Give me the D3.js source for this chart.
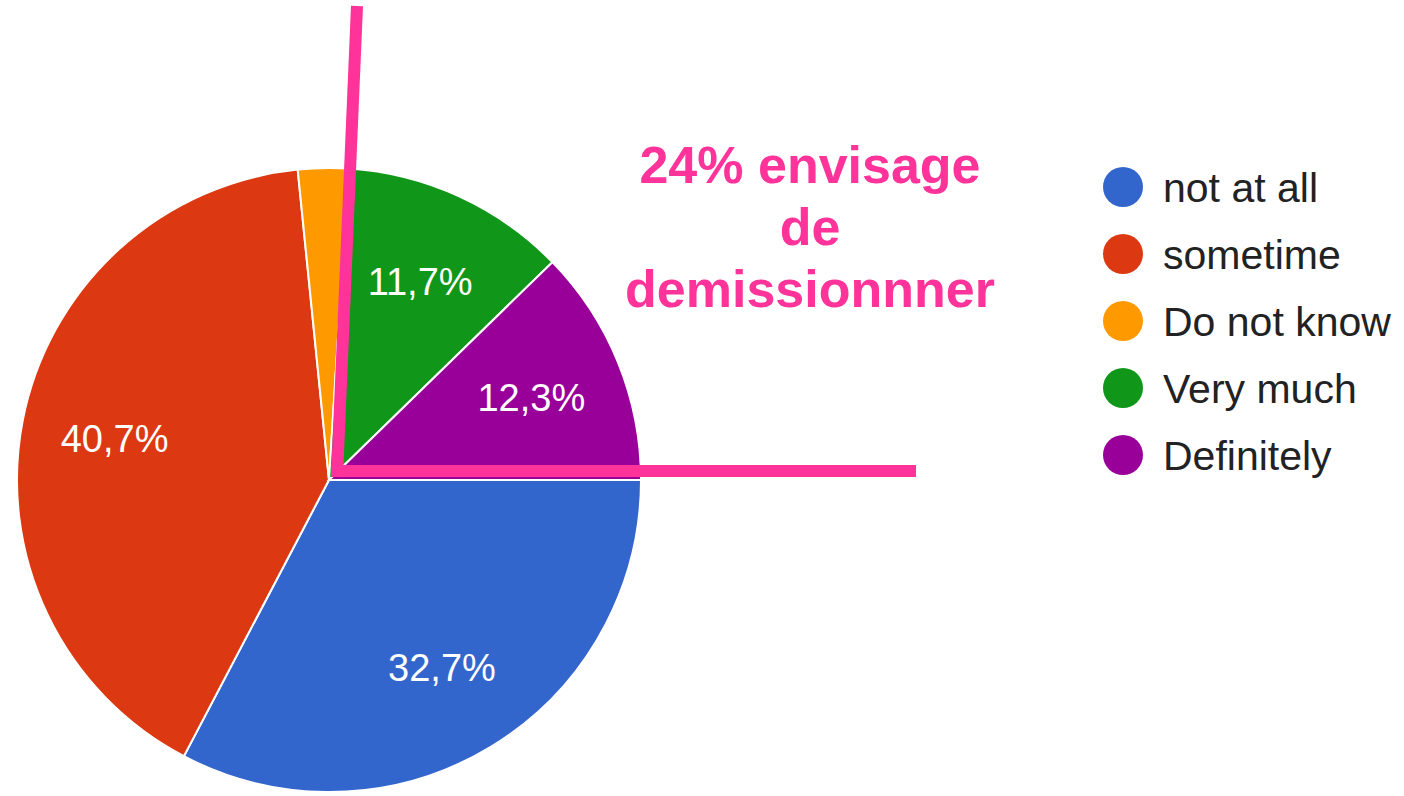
<!DOCTYPE html>
<html>
<head>
<meta charset="utf-8">
<script src="https://cdn.jsdelivr.net/npm/d3@7"></script>
<style>
    html, body { margin: 0; padding: 0; background: #fff; }
    svg { display: block; }
</style>
</head>
<body>
<div id="chart"></div>
<script>
// data
const categories = ["not at all", "sometime", "Do not know", "Very much", "Definitely"];
const values = [32.7, 40.7, 2.6, 11.7, 12.3];
const colors = ["#3366cc", "#dc3912", "#ff9900", "#109618", "#990099"];
const noteLines = ["24% envisage", "de", "demissionnner"];

const width = 1404;
const height = 796;
const cx = 329;
const cy = 480;
const radius = 312;

const svg = d3.select("#chart")
    .append("svg")
    .attr("width", width)
    .attr("height", height);

const fmt = (v) => d3.format(".1f")(v).replace(".", ",") + "%";

const pie = d3.pie()
    .sort(null)
    .value((d) => d)
    .startAngle(Math.PI / 2)
    .endAngle(Math.PI / 2 + 2 * Math.PI);

const arc = d3.arc().innerRadius(0).outerRadius(radius);
const labelArc = d3.arc().innerRadius(radius * 0.7).outerRadius(radius * 0.7);

const g = svg.append("g").attr("transform", "translate(" + cx + "," + cy + ")");
const arcs = pie(values);

g.selectAll("path")
    .data(arcs)
    .enter()
    .append("path")
    .attr("d", arc)
    .attr("fill", (d, i) => colors[i])
    .attr("stroke", "#fff")
    .attr("stroke-width", 2);

g.selectAll("text")
    .data(arcs.filter((d) => d.data > 5))
    .enter()
    .append("text")
    .attr("transform", (d) => "translate(" + labelArc.centroid(d) + ")")
    .attr("text-anchor", "middle")
    .attr("dy", "0.36em")
    .attr("fill", "#fff")
    .style("font-family", "Arial, 'Liberation Sans', sans-serif")
    .style("font-size", "38px")
    .text((d) => fmt(d.data));

// legend
const legend = svg.append("g").attr("transform", "translate(1123,187)");
const item = legend.selectAll("g")
    .data(categories)
    .enter()
    .append("g")
    .attr("transform", (d, i) => "translate(0," + i * 67 + ")");

item.append("circle").attr("r", 20).attr("fill", (d, i) => colors[i]);
item.append("text")
    .attr("x", 40)
    .attr("y", 15)
    .attr("fill", "#222")
    .style("font-family", "Arial, 'Liberation Sans', sans-serif")
    .style("font-size", "41px")
    .text((d) => d);

// pink annotation
const pink = "#ff3399";
svg.append("line")
    .attr("x1", 357).attr("y1", 6)
    .attr("x2", 337).attr("y2", 477)
    .attr("stroke", pink).attr("stroke-width", 12);
svg.append("line")
    .attr("x1", 331).attr("y1", 471)
    .attr("x2", 916).attr("y2", 471)
    .attr("stroke", pink).attr("stroke-width", 12);

svg.append("g")
    .selectAll("text")
    .data(noteLines)
    .enter()
    .append("text")
    .attr("x", 810)
    .attr("y", (d, i) => 183 + i * 62)
    .attr("text-anchor", "middle")
    .attr("fill", pink)
    .style("font-family", "Arial, 'Liberation Sans', sans-serif")
    .style("font-weight", "bold")
    .style("font-size", "52px")
    .text((d) => d);
</script>
</body>
</html>
